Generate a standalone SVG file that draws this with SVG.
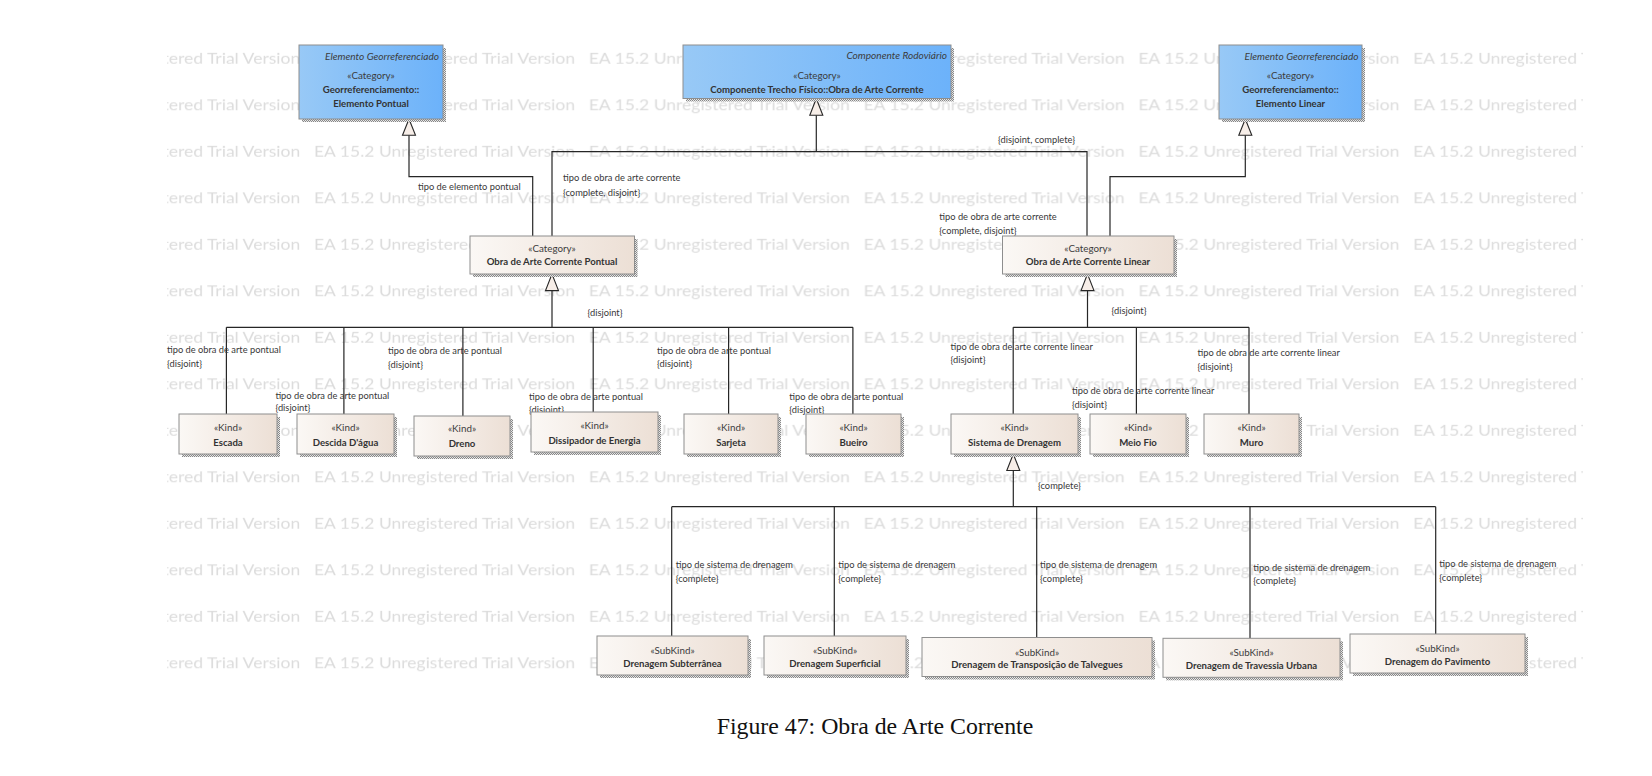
<svg xmlns="http://www.w3.org/2000/svg" width="1652" height="776" viewBox="0 0 1652 776">
<style>
text{font-family:Lato,"Liberation Sans",sans-serif;}
.wm{font-size:15px;fill:#dcdcdc;}
.st{font-size:9.8px;fill:#3c3c3c;text-anchor:middle;}
.nm{font-size:9.6px;font-weight:bold;fill:#333;text-anchor:middle;}
.it{font-size:10.1px;font-style:italic;fill:#3c3c3c;text-anchor:end;}
.lb{font-size:9.3px;fill:#383838;}
.bx{fill:url(#gb);stroke:#8e8e8e;stroke-width:1;}
.bl{fill:url(#gbl);stroke:#8e8e8e;stroke-width:1;}
.sh{fill:url(#chk);}
.ln{fill:none;stroke:#262626;stroke-width:1.2;}
.ar{fill:#f7eee8;stroke:#262626;stroke-width:1.1;}
.cap{font-family:"Liberation Serif",serif;font-size:23.8px;fill:#111;text-anchor:middle;}
</style>
<defs>
<linearGradient id="gb" x1="0" y1="0" x2="1" y2="0"><stop offset="0" stop-color="#fbf8f5"/><stop offset="1" stop-color="#ecdfd5"/></linearGradient>
<linearGradient id="gbl" x1="0" y1="0" x2="1" y2="0"><stop offset="0" stop-color="#98c9f6"/><stop offset="1" stop-color="#6cb2fa"/></linearGradient>
<pattern id="chk" width="2" height="2" patternUnits="userSpaceOnUse"><rect width="2" height="2" fill="#e6e6e6"/><rect width="1" height="1" fill="#888"/><rect x="1" y="1" width="1" height="1" fill="#888"/></pattern>
<pattern id="wmp" patternUnits="userSpaceOnUse" x="39.2" y="40" width="274.8" height="46.5"><text class="wm" x="0" y="23.5" textLength="261" lengthAdjust="spacingAndGlyphs">EA 15.2 Unregistered Trial Version</text></pattern>
<clipPath id="wmc"><rect x="167" y="38" width="1416" height="645"/></clipPath>
</defs>
<rect width="1652" height="776" fill="#fff"/>
<g id="watermark"><rect x="167" y="38" width="1416" height="645" fill="url(#wmp)" clip-path="url(#wmc)"/></g>

<g id="connectors">
<path class="ln" d="M532.7,236 V176.7 H409 V135.3"/>
<path class="ln" d="M552,236 V151.7 H1087 V236"/>
<path class="ln" d="M816.3,151.7 V115.3"/>
<path class="ln" d="M1110,236 V176.7 H1245.3 V135.3"/>
<path class="ln" d="M552,290.6 V327.3 M226.4,327.3 H852.9 M226.4,327.3 V414 M343.9,327.3 V414 M462.9,327.3 V416 M593.2,327.3 V412 M728.6,327.3 V414 M852.9,327.3 V414"/>
<path class="ln" d="M1087.5,290.6 V327.3 M1013.2,327.3 H1249 M1013.2,327.3 V414 M1136.4,327.3 V414 M1249,327.3 V414"/>
<path class="ln" d="M1013.3,470.5 V506.7 M671.7,506.7 H1435.7 M671.7,506.7 V636 M834.3,506.7 V636 M1036.7,506.7 V637.5 M1250,506.7 V638.3 M1435.7,506.7 V634"/>
<polygon class="ar" points="409,119 402.5,135.3 415.5,135.3"/>
<polygon class="ar" points="816.3,98.5 809.8,115.3 822.8,115.3"/>
<polygon class="ar" points="1245.3,119 1238.8,135.3 1251.8,135.3"/>
<polygon class="ar" points="552,274 545.5,290.6 558.5,290.6"/>
<polygon class="ar" points="1087.5,274 1081,290.6 1094,290.6"/>
<polygon class="ar" points="1013.3,454 1006.8,470.5 1019.8,470.5"/>
<text class="lb" x="418" y="190">tipo de elemento pontual</text>
<text class="lb" x="563" y="180.5">tipo de obra de arte corrente</text>
<text class="lb" x="563" y="195.5">{complete, disjoint}</text>
<text class="lb" x="998" y="143">{disjoint, complete}</text>
<text class="lb" x="939.3" y="220">tipo de obra de arte corrente</text>
<text class="lb" x="939.3" y="234">{complete, disjoint}</text>
<text class="lb" x="587.5" y="315.5">{disjoint}</text>
<text class="lb" x="1111.5" y="314">{disjoint}</text>
<text class="lb" x="167" y="352.5">tipo de obra de arte pontual</text>
<text class="lb" x="167" y="366.5">{disjoint}</text>
<text class="lb" x="275.4" y="398.5">tipo de obra de arte pontual</text>
<text class="lb" x="275.4" y="411">{disjoint}</text>
<text class="lb" x="388" y="353.8">tipo de obra de arte pontual</text>
<text class="lb" x="388" y="367.5">{disjoint}</text>
<text class="lb" x="529" y="399.5">tipo de obra de arte pontual</text>
<text class="lb" x="529" y="412.5">{disjoint}</text>
<text class="lb" x="657" y="353.8">tipo de obra de arte pontual</text>
<text class="lb" x="657" y="367">{disjoint}</text>
<text class="lb" x="789.3" y="399.5">tipo de obra de arte pontual</text>
<text class="lb" x="789.3" y="412.5">{disjoint}</text>
<text class="lb" x="950.5" y="349.5">tipo de obra de arte corrente linear</text>
<text class="lb" x="950.5" y="363.3">{disjoint}</text>
<text class="lb" x="1072" y="394.3">tipo de obra de arte corrente linear</text>
<text class="lb" x="1072" y="408.3">{disjoint}</text>
<text class="lb" x="1197.5" y="356">tipo de obra de arte corrente linear</text>
<text class="lb" x="1197.5" y="370">{disjoint}</text>
<text class="lb" x="1038" y="489">{complete}</text>
<text class="lb" x="675.7" y="567.5">tipo de sistema de drenagem</text>
<text class="lb" x="675.7" y="581.5">{complete}</text>
<text class="lb" x="838.3" y="567.5">tipo de sistema de drenagem</text>
<text class="lb" x="838.3" y="581.5">{complete}</text>
<text class="lb" x="1040" y="567.5">tipo de sistema de drenagem</text>
<text class="lb" x="1040" y="581.5">{complete}</text>
<text class="lb" x="1253.3" y="570.5">tipo de sistema de drenagem</text>
<text class="lb" x="1253.3" y="584">{complete}</text>
<text class="lb" x="1439.3" y="567.3">tipo de sistema de drenagem</text>
<text class="lb" x="1439.3" y="581.3">{complete}</text>
</g>

<g id="elemento-pontual">
<rect class="sh" x="302" y="48" width="144" height="74"/>
<rect class="bl" x="299" y="45" width="144" height="74"/>
<text class="it" x="439" y="59.5">Elemento Georreferenciado</text>
<text class="st" x="371" y="79">«Category»</text>
<text class="nm" x="371" y="93">Georreferenciamento::</text>
<text class="nm" x="371" y="107">Elemento Pontual</text>
</g>
<g id="componente-rodoviario">
<rect class="sh" x="686" y="48" width="268" height="53.5"/>
<rect class="bl" x="683" y="45" width="268" height="53.5"/>
<text class="it" x="947" y="59">Componente Rodoviário</text>
<text class="st" x="817" y="78.7">«Category»</text>
<text class="nm" x="817" y="92.7">Componente Trecho Físico::Obra de Arte Corrente</text>
</g>
<g id="elemento-linear">
<rect class="sh" x="1222" y="48" width="143" height="74"/>
<rect class="bl" x="1219" y="45" width="143" height="74"/>
<text class="it" x="1358.5" y="59.5">Elemento Georreferenciado</text>
<text class="st" x="1290.5" y="79">«Category»</text>
<text class="nm" x="1290.5" y="93">Georreferenciamento::</text>
<text class="nm" x="1290.5" y="106.5">Elemento Linear</text>
</g>

<g id="obra-pontual">
<rect class="sh" x="473" y="239" width="164.5" height="38"/>
<rect class="bx" x="470" y="236" width="164.5" height="38"/>
<text class="st" x="552" y="252.3">«Category»</text>
<text class="nm" x="552" y="265.3">Obra de Arte Corrente Pontual</text>
</g>
<g id="obra-linear">
<rect class="sh" x="1005.5" y="239" width="171.5" height="38"/>
<rect class="bx" x="1002.5" y="236" width="171.5" height="38"/>
<text class="st" x="1088" y="252.3">«Category»</text>
<text class="nm" x="1088" y="265.3">Obra de Arte Corrente Linear</text>
</g>

<g id="escada">
<rect class="sh" x="182" y="417" width="98" height="40"/>
<rect class="bx" x="179" y="414" width="98" height="40"/>
<text class="st" x="228" y="430.8">«Kind»</text>
<text class="nm" x="228" y="445.8">Escada</text>
</g>
<g id="descida">
<rect class="sh" x="300" y="417" width="97" height="40"/>
<rect class="bx" x="297" y="414" width="97" height="40"/>
<text class="st" x="345.5" y="430.8">«Kind»</text>
<text class="nm" x="345.5" y="445.8">Descida D'água</text>
</g>
<g id="dreno">
<rect class="sh" x="417" y="419" width="96" height="40"/>
<rect class="bx" x="414" y="416" width="96" height="40"/>
<text class="st" x="462" y="432.3">«Kind»</text>
<text class="nm" x="462" y="447.3">Dreno</text>
</g>
<g id="dissipador">
<rect class="sh" x="534" y="415" width="127" height="40"/>
<rect class="bx" x="531" y="412" width="127" height="40"/>
<text class="st" x="594.5" y="429.3">«Kind»</text>
<text class="nm" x="594.5" y="444.3">Dissipador de Energia</text>
</g>
<g id="sarjeta">
<rect class="sh" x="687" y="417" width="94" height="40"/>
<rect class="bx" x="684" y="414" width="94" height="40"/>
<text class="st" x="731" y="430.8">«Kind»</text>
<text class="nm" x="731" y="445.8">Sarjeta</text>
</g>
<g id="bueiro">
<rect class="sh" x="809" y="417" width="95" height="40"/>
<rect class="bx" x="806" y="414" width="95" height="40"/>
<text class="st" x="853.5" y="430.8">«Kind»</text>
<text class="nm" x="853.5" y="445.8">Bueiro</text>
</g>
<g id="sistema-drenagem">
<rect class="sh" x="954" y="417" width="127" height="40"/>
<rect class="bx" x="951" y="414" width="127" height="40"/>
<text class="st" x="1014.5" y="430.8">«Kind»</text>
<text class="nm" x="1014.5" y="445.8">Sistema de Drenagem</text>
</g>
<g id="meio-fio">
<rect class="sh" x="1093" y="417" width="96" height="40"/>
<rect class="bx" x="1090" y="414" width="96" height="40"/>
<text class="st" x="1138" y="430.8">«Kind»</text>
<text class="nm" x="1138" y="445.8">Meio Fio</text>
</g>
<g id="muro">
<rect class="sh" x="1207" y="417" width="95" height="40"/>
<rect class="bx" x="1204" y="414" width="95" height="40"/>
<text class="st" x="1251.5" y="430.8">«Kind»</text>
<text class="nm" x="1251.5" y="445.8">Muro</text>
</g>

<g id="drenagem-subterranea">
<rect class="sh" x="600" y="639" width="151" height="39"/>
<rect class="bx" x="597" y="636" width="151" height="39"/>
<text class="st" x="672.5" y="654.3">«SubKind»</text>
<text class="nm" x="672.5" y="666.8">Drenagem Subterrânea</text>
</g>
<g id="drenagem-superficial">
<rect class="sh" x="767" y="639" width="142" height="39"/>
<rect class="bx" x="764" y="636" width="142" height="39"/>
<text class="st" x="835" y="654.3">«SubKind»</text>
<text class="nm" x="835" y="666.8">Drenagem Superficial</text>
</g>
<g id="drenagem-transposicao">
<rect class="sh" x="925" y="640.5" width="230" height="39"/>
<rect class="bx" x="922" y="637.5" width="230" height="39"/>
<text class="st" x="1037" y="655.8">«SubKind»</text>
<text class="nm" x="1037" y="668.3">Drenagem de Transposição de Talvegues</text>
</g>
<g id="drenagem-travessia">
<rect class="sh" x="1166" y="641.3" width="177" height="39"/>
<rect class="bx" x="1163" y="638.3" width="177" height="39"/>
<text class="st" x="1251.5" y="656.3">«SubKind»</text>
<text class="nm" x="1251.5" y="669.3">Drenagem de Travessia Urbana</text>
</g>
<g id="drenagem-pavimento">
<rect class="sh" x="1353" y="637" width="175" height="39"/>
<rect class="bx" x="1350" y="634" width="175" height="39"/>
<text class="st" x="1437.5" y="651.8">«SubKind»</text>
<text class="nm" x="1437.5" y="664.8">Drenagem do Pavimento</text>
</g>

<text class="cap" x="875" y="734">Figure 47: Obra de Arte Corrente</text>
</svg>
